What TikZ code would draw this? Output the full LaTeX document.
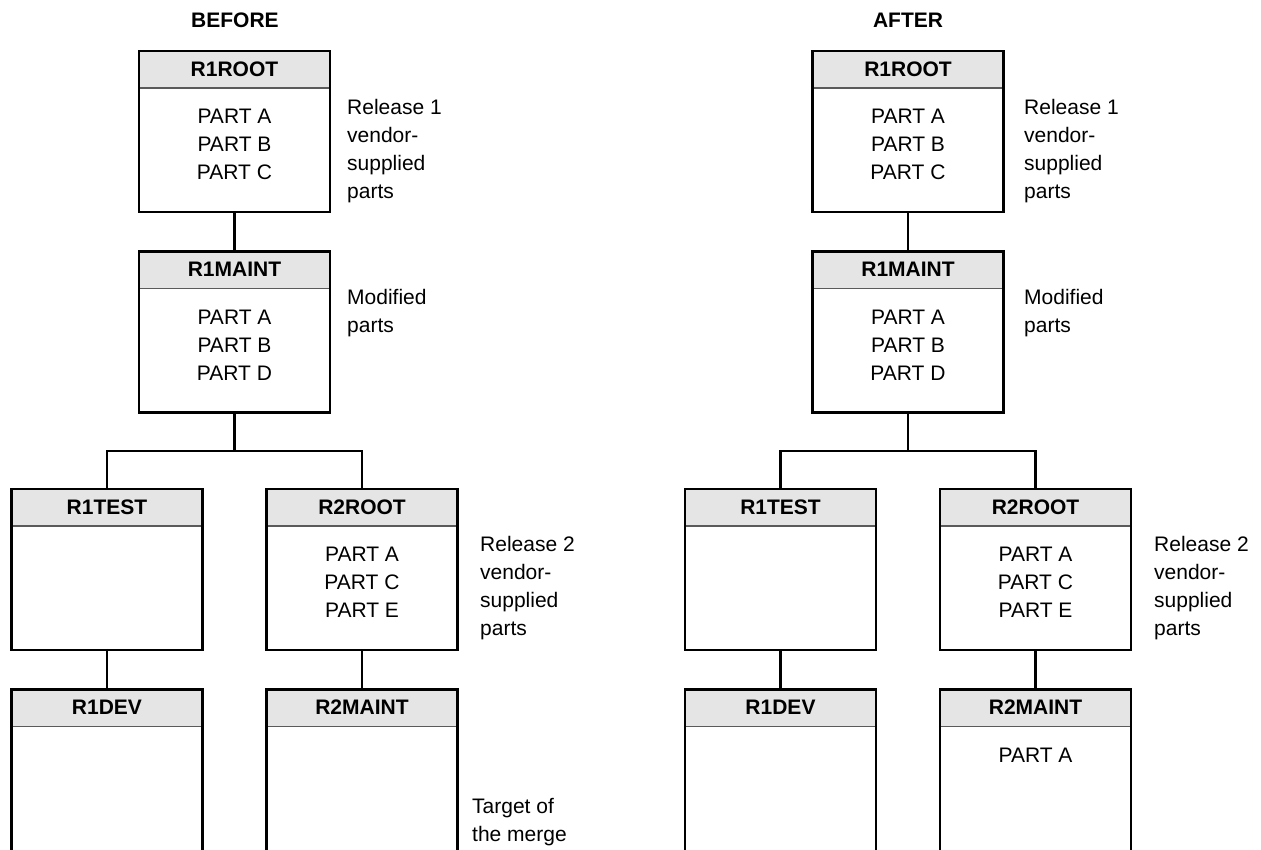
\documentclass[tikz,border=0pt]{standalone}
\usepackage{fontspec}
\setmainfont{Liberation Sans}
\definecolor{hdrgray}{HTML}{E5E5E5}
\definecolor{sepgray}{HTML}{5A5A5A}
\begin{document}
\begin{tikzpicture}[x=1pt,y=-1pt,
  % library box: black frame with a grey title band
  libbox/.style={draw, line width=2.6pt, fill=white, rectangle, inner sep=0pt,
    minimum width=191, minimum height=161,
    path picture={
      \fill[hdrgray] (path picture bounding box.north west)
        rectangle ([yshift=-37pt]path picture bounding box.north east);
      \draw[line width=1.3pt, sepgray]
        ([yshift=-37pt]path picture bounding box.north west) --
        ([yshift=-37pt]path picture bounding box.north east);
    }},
  openbox/.style={libbox, minimum height=200},
  hdrtext/.style={font=\fontsize{21}{28}\selectfont\bfseries, inner sep=0pt},
  parts/.style={font=\fontsize{21}{28}\selectfont, align=center, inner sep=0pt},
  note/.style={font=\fontsize{21}{28}\selectfont, align=left, inner sep=0pt, anchor=north west},
  title/.style={font=\fontsize{21}{28}\selectfont\bfseries, inner sep=0pt},
  link/.style={line width=2.6pt}
]
\useasboundingbox (0,0) rectangle (1261,850);
\clip (0,0) rectangle (1261,850);

% ---------------- BEFORE ----------------
\node[title] (b-title) at (235,20) {BEFORE};

\node[libbox] (b-r1root) at (234.5,131.5) {};
\node[libbox] (b-r1maint) at (234.5,332) {};
\node[libbox] (b-r1test) at (107,569.5) {};
\node[libbox] (b-r2root) at (362,569.5) {};
\node[openbox] (b-r1dev) at (107,789.3) {};
\node[openbox] (b-r2maint) at (362,789.3) {};

\node[hdrtext] (b-r1root-h) at ([yshift=-19.5pt]b-r1root.north) {R1ROOT};
\node[hdrtext] (b-r1maint-h) at ([yshift=-19.5pt]b-r1maint.north) {R1MAINT};
\node[hdrtext] (b-r1test-h) at ([yshift=-19.5pt]b-r1test.north) {R1TEST};
\node[hdrtext] (b-r2root-h) at ([yshift=-19.5pt]b-r2root.north) {R2ROOT};
\node[hdrtext] (b-r1dev-h) at ([yshift=-19.5pt]b-r1dev.north) {R1DEV};
\node[hdrtext] (b-r2maint-h) at ([yshift=-19.5pt]b-r2maint.north) {R2MAINT};

\node[parts] (b-r1root-p) at ([yshift=-95pt]b-r1root.north) {PART A\\PART B\\PART C};
\node[parts] (b-r1maint-p) at ([yshift=-95pt]b-r1maint.north) {PART A\\PART B\\PART D};
\node[parts] (b-r2root-p) at ([yshift=-95pt]b-r2root.north) {PART A\\PART C\\PART E};

\node[note] (b-note1) at (347,99.5) {Release 1\\vendor-\\supplied\\parts};
\node[note] (b-note2) at (347,289.5) {Modified\\parts};
\node[note] (b-note3) at (480,536.5) {Release 2\\vendor-\\supplied\\parts};
\node[note] (b-note4) at (472,798.5) {Target of\\the merge};

\coordinate (b-fork) at (234.5,451);
\draw[link] (b-r1root.south) -- (b-r1maint.north);
\draw[link] (b-r1maint.south) -- (b-fork);
\draw[link] (b-r1test.north) |- (b-fork) -| (b-r2root.north);
\draw[link] (b-r1test.south) -- (b-r1dev.north);
\draw[link] (b-r2root.south) -- (b-r2maint.north);

% ---------------- AFTER ----------------
\node[title] (a-title) at (908,20) {AFTER};

\node[libbox] (a-r1root) at (908,131.5) {};
\node[libbox] (a-r1maint) at (908,332) {};
\node[libbox] (a-r1test) at (780.5,569.5) {};
\node[libbox] (a-r2root) at (1035.5,569.5) {};
\node[openbox] (a-r1dev) at (780.5,789.3) {};
\node[openbox] (a-r2maint) at (1035.5,789.3) {};

\node[hdrtext] (a-r1root-h) at ([yshift=-19.5pt]a-r1root.north) {R1ROOT};
\node[hdrtext] (a-r1maint-h) at ([yshift=-19.5pt]a-r1maint.north) {R1MAINT};
\node[hdrtext] (a-r1test-h) at ([yshift=-19.5pt]a-r1test.north) {R1TEST};
\node[hdrtext] (a-r2root-h) at ([yshift=-19.5pt]a-r2root.north) {R2ROOT};
\node[hdrtext] (a-r1dev-h) at ([yshift=-19.5pt]a-r1dev.north) {R1DEV};
\node[hdrtext] (a-r2maint-h) at ([yshift=-19.5pt]a-r2maint.north) {R2MAINT};

\node[parts] (a-r1root-p) at ([yshift=-95pt]a-r1root.north) {PART A\\PART B\\PART C};
\node[parts] (a-r1maint-p) at ([yshift=-95pt]a-r1maint.north) {PART A\\PART B\\PART D};
\node[parts] (a-r2root-p) at ([yshift=-95pt]a-r2root.north) {PART A\\PART C\\PART E};
\node[parts] (a-r2maint-p) at ([yshift=-67pt]a-r2maint.north) {PART A};

\node[note] (a-note1) at (1024,99.5) {Release 1\\vendor-\\supplied\\parts};
\node[note] (a-note2) at (1024,289.5) {Modified\\parts};
\node[note] (a-note3) at (1154,536.5) {Release 2\\vendor-\\supplied\\parts};

\coordinate (a-fork) at (908,451);
\draw[link] (a-r1root.south) -- (a-r1maint.north);
\draw[link] (a-r1maint.south) -- (a-fork);
\draw[link] (a-r1test.north) |- (a-fork) -| (a-r2root.north);
\draw[link] (a-r1test.south) -- (a-r1dev.north);
\draw[link] (a-r2root.south) -- (a-r2maint.north);
\end{tikzpicture}
\end{document}
